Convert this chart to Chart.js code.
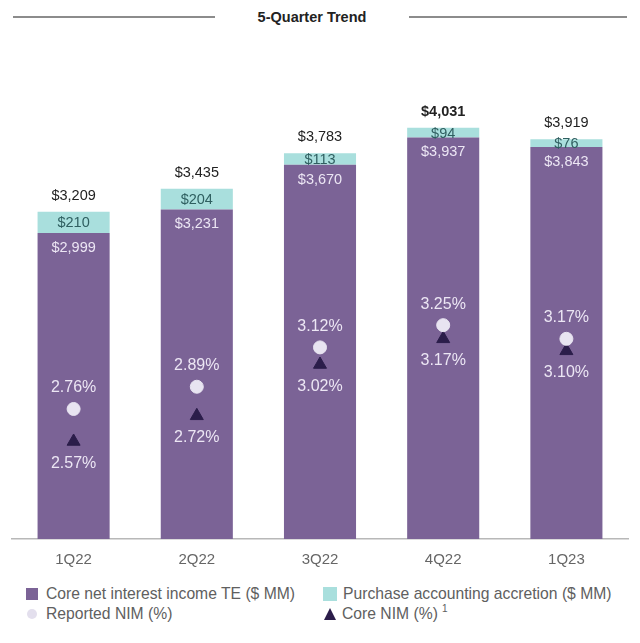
<!DOCTYPE html>
<html>
<head>
<meta charset="utf-8">
<script src="https://cdn.jsdelivr.net/npm/chart.js@4.4.0/dist/chart.umd.min.js"></script>
<style>
    body { margin: 0; background: #fff; font-family: "Liberation Sans", Arial, sans-serif; }
    .title-row { position: absolute; top: 6px; left: 13px; width: 614px; height: 22px; display: flex; align-items: center; }
    .title-row .rule { flex: none; height: 2px; background: #8c8c8c; }
    .title-row .txt { flex: 1; text-align: center; font-size: 14.5px; font-weight: bold; color: #222; }
    .chart-wrap { position: absolute; top: 40px; left: 0; width: 640px; height: 541px; }
    .legend { position: absolute; top: 584px; left: 0; width: 640px; font-size: 15.7px; color: #606060; }
    .legend .item { position: absolute; display: flex; align-items: center; white-space: nowrap; height: 20px; }
    .legend .sw { width: 12px; height: 12px; margin-right: 8px; }
</style>
</head>
<body>
    <div class="title-row">
        <div class="rule" style="width:202px"></div>
        <div class="txt">5-Quarter Trend</div>
        <div class="rule" style="width:218px"></div>
    </div>
    <div class="chart-wrap"><canvas id="nimChart"></canvas></div>
    <div class="legend">
        <div class="item" style="left:26px; top:0px"><div class="sw" style="background:#7b6396"></div>Core net interest income TE ($ MM)</div>
        <div class="item" style="left:323px; top:0px"><div class="sw" style="background:#a9dfdd; width:14px; height:14px; margin-right:6px"></div>Purchase accounting accretion ($ MM)</div>
        <div class="item" style="left:27px; top:20px"><div class="sw" style="background:#e3dfed; border-radius:50%; width:10px; height:10px; margin-right:9px"></div>Reported NIM (%)</div>
        <div class="item" style="left:324px; top:20px"><div class="sw" style="width:0; height:0; border-left:6.5px solid transparent; border-right:6.5px solid transparent; border-bottom:12px solid #2b1d4a; background:none; margin-right:6px"></div>Core NIM (%)<sup style="font-size:10px; margin-left:4px; position:relative; top:-6px">1</sup></div>
    </div>
    <script>
        const quarters = ['1Q22', '2Q22', '3Q22', '4Q22', '1Q23'];
        const coreNii = [2999, 3231, 3670, 3937, 3843];
        const accretion = [210, 204, 113, 94, 76];
        const totalNii = [3209, 3435, 3783, 4031, 3919];
        const reportedNim = [2.76, 2.89, 3.12, 3.25, 3.17];
        const coreNim = [2.57, 2.72, 3.02, 3.17, 3.10];

        const FONT = '"Liberation Sans", Arial, sans-serif';

        // draws the value labels on bars and markers
        const labelPlugin = {
            id: 'valueLabels',
            afterDatasetsDraw(chart) {
                const ctx = chart.ctx;
                ctx.save();
                ctx.textAlign = 'center';
                ctx.textBaseline = 'middle';

                const coreMeta = chart.getDatasetMeta(0);
                const accMeta = chart.getDatasetMeta(1);
                const repMeta = chart.getDatasetMeta(2);
                const cnMeta = chart.getDatasetMeta(3);

                quarters.forEach((q, i) => {
                    const core = coreMeta.data[i];
                    const acc = accMeta.data[i];
                    // total above bar
                    ctx.fillStyle = '#222';
                    ctx.font = (i === 3 ? 'bold ' : '') + '14.5px ' + FONT;
                    ctx.fillText('$' + totalNii[i].toLocaleString('en-US'), acc.x, acc.y - 16);
                    ctx.font = '14.5px ' + FONT;
                    // accretion inside cyan
                    ctx.fillStyle = '#2f5f60';
                    ctx.fillText('$' + accretion[i], acc.x, (acc.y + core.y) / 2 + 1);
                    // core nii below boundary
                    ctx.fillStyle = '#ece6f4';
                    ctx.fillText('$' + coreNii[i].toLocaleString('en-US'), core.x, core.y + 15);
                    // NIM labels
                    ctx.font = '16px ' + FONT;
                    const rp = repMeta.data[i];
                    const cp = cnMeta.data[i];
                    ctx.fillText(reportedNim[i].toFixed(2) + '%', rp.x, rp.y - 21);
                    ctx.fillText(coreNim[i].toFixed(2) + '%', cp.x, cp.y + 22);
                });
                ctx.restore();
            }
        };

        const nimCtx = document.getElementById('nimChart').getContext('2d');
        const nimChart = new Chart(nimCtx, {
            type: 'bar',
            data: {
                labels: quarters,
                datasets: [
                    {
                        label: 'Core net interest income TE ($ MM)',
                        data: coreNii,
                        backgroundColor: '#7b6396',
                        stack: 'nii',
                        yAxisID: 'y',
                        categoryPercentage: 1,
                        barPercentage: 0.585,
                        order: 2
                    },
                    {
                        label: 'Purchase accounting accretion ($ MM)',
                        data: accretion,
                        backgroundColor: '#a9dfdd',
                        stack: 'nii',
                        yAxisID: 'y',
                        categoryPercentage: 1,
                        barPercentage: 0.585,
                        order: 2
                    },
                    {
                        type: 'line',
                        label: 'Reported NIM (%)',
                        data: reportedNim,
                        yAxisID: 'y2',
                        showLine: false,
                        pointStyle: 'circle',
                        pointRadius: 6.5,
                        pointBackgroundColor: '#e8e4f1',
                        pointBorderColor: '#e8e4f1',
                        order: 1
                    },
                    {
                        type: 'line',
                        label: 'Core NIM (%)',
                        data: coreNim,
                        yAxisID: 'y2',
                        showLine: false,
                        pointStyle: 'triangle',
                        pointRadius: 7.5,
                        pointBackgroundColor: '#2b1d4a',
                        pointBorderColor: '#2b1d4a',
                        order: 1
                    }
                ]
            },
            options: {
                responsive: true,
                maintainAspectRatio: false,
                animation: false,
                layout: {
                    padding: { top: 40, left: 12, right: 12, bottom: 0 }
                },
                scales: {
                    x: {
                        stacked: true,
                        grid: { display: false, drawTicks: false },
                        border: { display: true, color: '#b8b8b8', width: 1.5 },
                        ticks: { color: '#666', font: { family: FONT, size: 15 }, padding: 12 }
                    },
                    y: {
                        stacked: true,
                        display: false,
                        min: 0,
                        max: 4500
                    },
                    y2: {
                        display: false,
                        min: 2.0,
                        max: 4.683
                    }
                },
                plugins: {
                    legend: { display: false },
                    tooltip: { enabled: false }
                }
            },
            plugins: [labelPlugin]
        });
    </script>
</body>
</html>
